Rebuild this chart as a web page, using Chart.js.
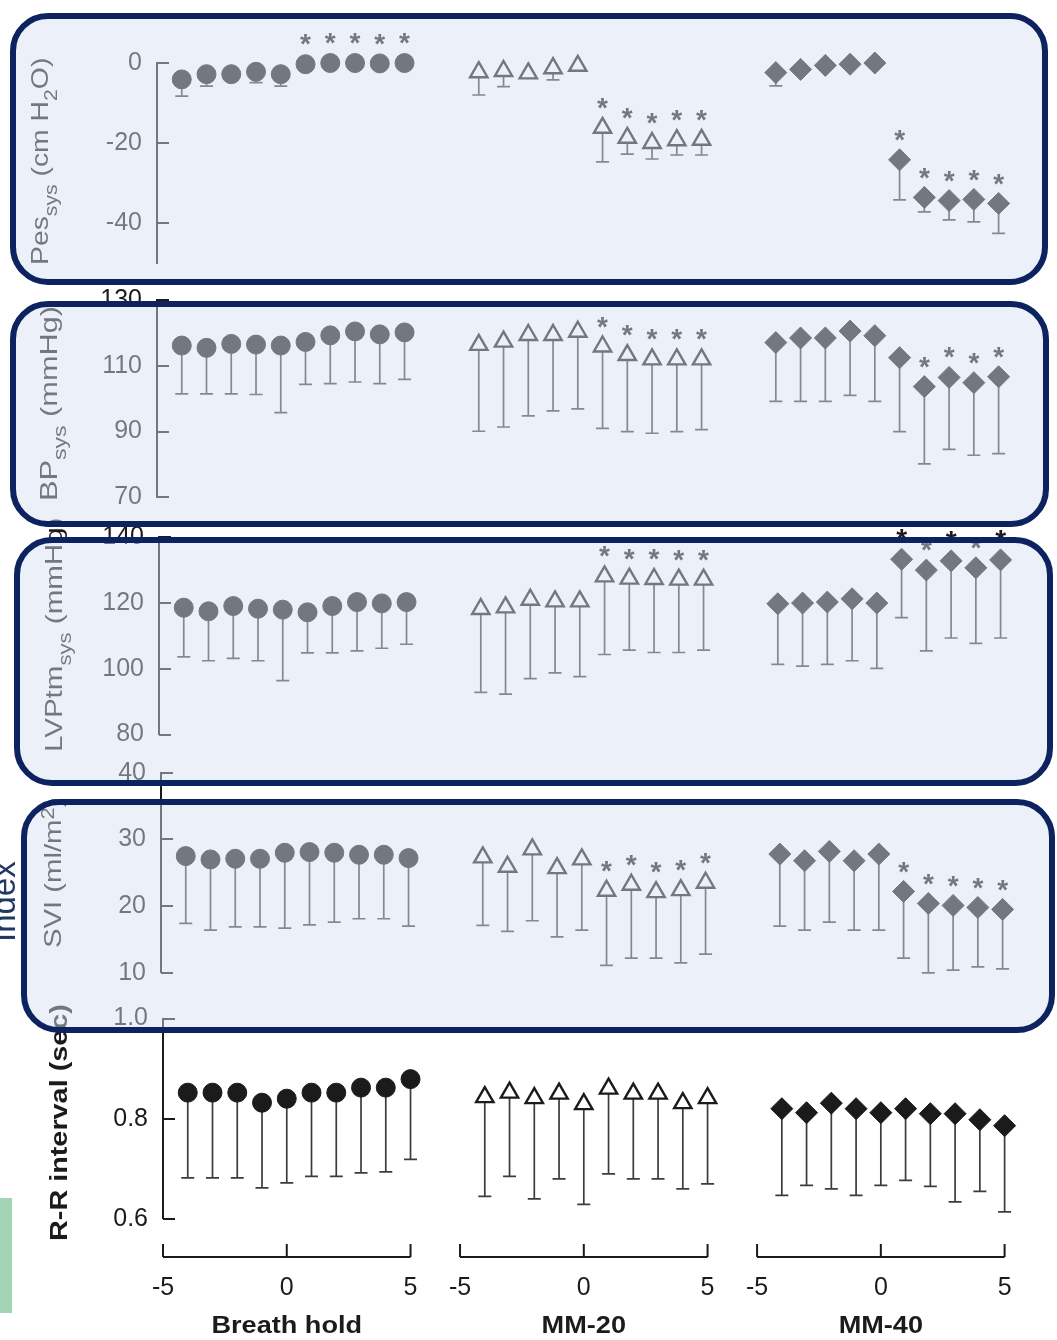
<!DOCTYPE html>
<html>
<head>
<meta charset="utf-8">
<script src="https://cdn.jsdelivr.net/npm/chart.js@4.4.1/dist/chart.umd.min.js"></script>
<style>
  html, body { margin: 0; padding: 0; background: #fff; }
  #stage { position: relative; width: 1057px; height: 1340px; overflow: hidden; background: #fff;
           font-family: 'Liberation Sans', Arial, sans-serif; }
  #stage canvas { position: absolute; top: 0; }
  .ytitle { position: absolute; transform-origin: 0 0; white-space: nowrap; font-size: 24px;
            line-height: 1; color: #1b1b1b; }
  .ytitle sub { font-size: 0.75em; vertical-align: -0.5em; line-height: 0; }
  .ytitle sup { font-size: 0.75em; vertical-align: 0.4em; line-height: 0; }
  .box { position: absolute; box-sizing: border-box; border: 6px solid #0c2360; border-radius: 38px;
         background: rgba(212, 223, 242, 0.47); z-index: 5; }
  #index { position: absolute; left: -13px; top: 942px; transform-origin: 0 0; transform: rotate(-90deg);
           font-size: 33px; line-height: 1; color: #1f3864; white-space: nowrap; }
  #greenTab { position: absolute; left: 0; top: 1198px; width: 12px; height: 115px; background: #a4d4b6; }
</style>
</head>
<body>
<div id="stage"></div>
<script>
/*
  Pes, BP, LVPtm, SVI and R-R interval around breath hold, MM-20 and MM-40
  five stacked panels, one Chart.js scatter per panel
*/

// ── shared x layout ───────────────────────────────────────────────
const seconds      = [-4, -3, -2, -1, 0, 1, 2, 3, 4, 5];
const groupNames   = ['Breath hold', 'MM-20', 'MM-40'];
const groupCentres = [0, 12, 24];
const xTickLabels  = [-5, 0, 5];

// ── Pes sys (cm H2O) ──────────────────────────────────────────────
const pesTicks     = [-40, -20, 0];
const pesBreath    = [-4.1, -2.8, -2.8, -2.2, -2.8, -0.3, 0, 0, -0.1, 0];
const pesBreathLow = [-8.3, -5.8, -4.0, -4.9, -5.8, -1.5, -1.3, -1.3, -1.4, -1.3];
const pesMM20      = [-2.3, -2.0, -2.6, -1.3, -0.7, -16.2, -18.7, -20.0, -19.3, -19.2];
const pesMM20Low   = [-8.0, -5.9, -3.5, -4.2, -1.5, -24.7, -22.8, -24.0, -23.0, -23.0];
const pesMM40      = [-2.4, -1.6, -0.6, -0.3, 0, -24.2, -33.6, -34.4, -34.1, -35.1];
const pesMM40Low   = [-5.7, -2.5, -1.5, -1.2, -0.9, -34.2, -37.2, -39.2, -39.7, -42.6];
const pesStars     = [[1, 2, 3, 4, 5], [1, 2, 3, 4, 5], [1, 2, 3, 4, 5]];

// ── BP sys (mmHg) ─────────────────────────────────────────────────
const bpTicks      = [70, 90, 110, 130];
const bpBreath     = [116.2, 115.5, 116.7, 116.5, 116.2, 117.3, 119.3, 120.5, 119.6, 120.2];
const bpBreathLow  = [101.5, 101.5, 101.5, 101.3, 95.8, 104.4, 104.6, 105.1, 104.6, 105.9];
const bpMM20       = [116.4, 117.4, 119.4, 119.4, 120.4, 115.9, 113.3, 112.0, 112.0, 112.0];
const bpMM20Low    = [90.1, 91.4, 94.8, 96.3, 96.9, 91.0, 90.0, 89.5, 90.0, 90.6];
const bpMM40       = [117.1, 118.5, 118.5, 120.6, 119.2, 112.5, 103.7, 106.5, 104.9, 106.7];
const bpMM40Low    = [99.2, 99.2, 99.2, 101.0, 99.2, 90.0, 80.2, 84.6, 82.8, 83.3];
const bpStars      = [[], [1, 2, 3, 4, 5], [2, 3, 4, 5]];

// ── LVPtm sys (mmHg) ──────────────────────────────────────────────
const lvpTicks     = [80, 100, 120, 140];
const lvpBreath    = [118.5, 117.4, 119.0, 118.2, 117.9, 117.1, 119.0, 120.2, 119.8, 120.2];
const lvpBreathLow = [103.6, 102.4, 103.1, 102.4, 96.4, 104.8, 104.8, 105.4, 106.2, 107.4];
const lvpMM20      = [118.1, 118.6, 120.9, 120.4, 120.4, 128.0, 127.3, 127.2, 127.0, 127.0];
const lvpMM20Low   = [92.8, 92.3, 97.0, 98.7, 97.6, 104.3, 105.6, 104.9, 104.9, 105.6];
const lvpMM40      = [119.7, 119.9, 120.2, 121.2, 119.9, 133.2, 129.9, 132.7, 130.6, 133.0];
const lvpMM40Low   = [101.3, 100.8, 101.3, 102.4, 100.1, 115.5, 105.4, 109.3, 107.7, 109.3];
const lvpStars     = [[], [1, 2, 3, 4, 5], [1, 2, 3, 4, 5]];

// ── SVI (ml/m2) ───────────────────────────────────────────────────
const sviTicks     = [10, 20, 30, 40];
const sviBreath    = [27.5, 27.0, 27.1, 27.1, 28.0, 28.1, 28.0, 27.7, 27.7, 27.2];
const sviBreathLow = [17.4, 16.4, 16.9, 16.9, 16.7, 17.2, 17.6, 18.1, 18.1, 17.0];
const sviMM20      = [27.3, 25.9, 28.5, 25.7, 27.0, 22.3, 23.2, 22.1, 22.4, 23.5];
const sviMM20Low   = [17.1, 16.2, 17.8, 15.4, 16.4, 11.1, 12.2, 12.2, 11.5, 12.8];
const sviMM40      = [27.8, 26.8, 28.2, 26.8, 27.8, 22.2, 20.4, 20.1, 19.8, 19.5];
const sviMM40Low   = [17.0, 16.4, 17.6, 16.4, 16.4, 12.2, 10.0, 10.4, 10.9, 10.6];
const sviStars     = [[], [1, 2, 3, 4, 5], [1, 2, 3, 4, 5]];

// ── R-R interval (sec) ────────────────────────────────────────────
const rrTicks      = [0.6, 0.8, 1.0];
const rrBreath     = [0.852, 0.852, 0.852, 0.832, 0.840, 0.852, 0.852, 0.862, 0.862, 0.879];
const rrBreathLow  = [0.682, 0.682, 0.682, 0.662, 0.672, 0.685, 0.685, 0.692, 0.694, 0.719];
const rrMM20       = [0.843, 0.852, 0.841, 0.850, 0.829, 0.860, 0.850, 0.850, 0.831, 0.841];
const rrMM20Low    = [0.645, 0.685, 0.640, 0.680, 0.629, 0.690, 0.680, 0.680, 0.660, 0.670];
const rrMM40       = [0.820, 0.812, 0.831, 0.820, 0.812, 0.820, 0.810, 0.810, 0.798, 0.786];
const rrMM40Low    = [0.647, 0.667, 0.660, 0.647, 0.667, 0.677, 0.665, 0.634, 0.655, 0.614];
const rrStars      = [[], [], []];

const yTitles = [
  'Pes<sub>sys</sub> (cm H<sub>2</sub>O)',
  'BP<sub>sys</sub> (mmHg)',
  'LVPtm<sub>sys</sub> (mmHg)',
  'SVI (ml/m<sup>2</sup>)',
  'R-R interval (sec)'
];

const INK  = '#1b1b1b';
const FONT = "'Liberation Sans', Arial, sans-serif";
const W = 1057, H = 1340;

// page geometry of each panel (plot top / bottom, sideways scan offset, title spot)
const panels = [
  { means: [pesBreath, pesMM20, pesMM40], lows: [pesBreathLow, pesMM20Low, pesMM40Low], stars: pesStars,
    ticks: pesTicks, min: -50, max: 0, top: 63, bottom: 263, shift: -6,
    title: { x: 48, y: 265, scale: 1.18 } },
  { means: [bpBreath, bpMM20, bpMM40], lows: [bpBreathLow, bpMM20Low, bpMM40Low], stars: bpStars,
    ticks: bpTicks, min: 70, max: 130, top: 300.2, bottom: 497.3, shift: -6,
    title: { x: 57.5, y: 501, scale: 1.28 } },
  { means: [lvpBreath, lvpMM20, lvpMM40], lows: [lvpBreathLow, lvpMM20Low, lvpMM40Low], stars: lvpStars,
    ticks: lvpTicks, min: 80, max: 140, top: 536.8, bottom: 734.6, shift: -4,
    title: { x: 62.5, y: 751.5, scale: 1.23 } },
  { means: [sviBreath, sviMM20, sviMM40], lows: [sviBreathLow, sviMM20Low, sviMM40Low], stars: sviStars,
    ticks: sviTicks, min: 10, max: 40, top: 772.7, bottom: 972.8, shift: -2.5,
    title: { x: 61, y: 947.5, scale: 1.22 } },
  { means: [rrBreath, rrMM20, rrMM40], lows: [rrBreathLow, rrMM20Low, rrMM40Low], stars: rrStars,
    ticks: rrTicks, min: 0.6, max: 1.0, top: 1018.5, bottom: 1218.9, shift: 0, decimals: 1, bold: true,
    title: { x: 67.5, y: 1241, scale: 1.2 } }
];

const MARKERS = [
  { style: 'circle',   radius: 9.5, fill: INK,       border: 1 },
  { style: 'triangle', radius: 10,  fill: '#ffffff', border: 2.4 },
  { style: 'rectRot',  radius: 11,  fill: INK,       border: 1 }
];

const BOXES = [
  { left: 10, top: 13,  right: 1048, bottom: 285 },
  { left: 10, top: 301, right: 1049, bottom: 527 },
  { left: 14, top: 537, right: 1053, bottom: 786 },
  { left: 21, top: 799, right: 1055, bottom: 1033 }
];

// ── plugins ───────────────────────────────────────────────────────
const whiskers = {
  id: 'whiskers',
  beforeDatasetsDraw(chart) {
    const { ctx, scales: { x, y } } = chart;
    ctx.save();
    ctx.strokeStyle = '#3c3c3c';
    ctx.lineWidth = 1.7;
    chart.data.datasets.forEach(ds => ds.data.forEach(p => {
      const px = x.getPixelForValue(p.x);
      const top = y.getPixelForValue(p.y);
      const bot = y.getPixelForValue(p.low);
      ctx.beginPath();
      ctx.moveTo(px, top); ctx.lineTo(px, bot);
      ctx.moveTo(px - 6.5, bot); ctx.lineTo(px + 6.5, bot);
      ctx.stroke();
    }));
    ctx.restore();
  }
};

const stars = {
  id: 'stars',
  afterDatasetsDraw(chart) {
    const { ctx, scales: { x, y } } = chart;
    const size = 28;
    ctx.save();
    ctx.fillStyle = INK;
    ctx.font = `bold ${size}px ${FONT}`;
    ctx.textAlign = 'center';
    ctx.textBaseline = 'alphabetic';
    chart.data.datasets.forEach(ds => ds.data.forEach(p => {
      if (!p.star) return;
      const px = x.getPixelForValue(p.x);
      const py = y.getPixelForValue(p.y) - 27;
      ctx.fillText('*', px, py + 0.575 * size);
    }));
    ctx.restore();
  }
};

// tick marks point inward, into the plot
const innerTicks = {
  id: 'innerTicks',
  afterDraw(chart) {
    const { ctx, chartArea, scales: { y } } = chart;
    ctx.save();
    ctx.strokeStyle = INK;
    ctx.lineWidth = 2;
    y.ticks.forEach(t => {
      const py = Math.round(y.getPixelForValue(t.value));
      ctx.beginPath();
      ctx.moveTo(chartArea.left, py);
      ctx.lineTo(chartArea.left + 12, py);
      ctx.stroke();
    });
    ctx.restore();
  }
};

// three bracket-shaped x axes, -5..5 around each manoeuvre
const groupAxis = {
  id: 'groupAxis',
  afterDraw(chart, args, opts) {
    if (!opts.show) return;
    const { ctx, chartArea, scales: { x } } = chart;
    const base = Math.round(chartArea.bottom + 38);
    ctx.save();
    ctx.strokeStyle = INK;
    ctx.fillStyle = INK;
    ctx.lineWidth = 2;
    groupCentres.forEach((c, g) => {
      const xs = xTickLabels.map(t => x.getPixelForValue(c + t));
      ctx.beginPath();
      ctx.moveTo(xs[0], base); ctx.lineTo(xs[xs.length - 1], base);
      xs.forEach(px => { ctx.moveTo(px, base); ctx.lineTo(px, base - 13); });
      ctx.stroke();

      ctx.font = `25px ${FONT}`;
      ctx.textAlign = 'center';
      ctx.textBaseline = 'middle';
      xTickLabels.forEach((t, i) => ctx.fillText(String(t), xs[i], base + 31));

      ctx.save();
      ctx.translate(x.getPixelForValue(c), base + 69);
      ctx.scale(1.13, 1);
      ctx.font = `bold 24px ${FONT}`;
      ctx.fillText(groupNames[g], 0, 0);
      ctx.restore();
    });
    ctx.restore();
  }
};

// ── build ─────────────────────────────────────────────────────────
const stage = document.getElementById('stage');

function buildDatasets(p) {
  return groupNames.map((name, g) => ({
    label: name,
    data: seconds.map((s, i) => ({
      x: groupCentres[g] + s,
      y: p.means[g][i],
      low: p.lows[g][i],
      star: p.stars[g].includes(s)
    })),
    pointStyle: MARKERS[g].style,
    pointRadius: MARKERS[g].radius,
    pointHoverRadius: MARKERS[g].radius,
    backgroundColor: MARKERS[g].fill,
    borderColor: INK,
    borderWidth: MARKERS[g].border,
    showLine: false,
    clip: false
  }));
}

panels.forEach((p, idx) => {
  const canvas = document.createElement('canvas');
  canvas.width = W;
  canvas.height = H;
  canvas.style.left = p.shift + 'px';
  stage.appendChild(canvas);

  new Chart(canvas.getContext('2d'), {
    type: 'scatter',
    data: { datasets: buildDatasets(p) },
    options: {
      responsive: false,
      animation: false,
      devicePixelRatio: 1,
      events: [],
      layout: { padding: { left: 0, right: W - 1004.6, top: p.top, bottom: H - p.bottom } },
      plugins: {
        legend: { display: false },
        tooltip: { enabled: false },
        groupAxis: { show: idx === panels.length - 1 }
      },
      scales: {
        x: { type: 'linear', min: -5, max: 29, display: false },
        y: {
          type: 'linear',
          min: p.min,
          max: p.max,
          afterBuildTicks: s => { s.ticks = p.ticks.map(v => ({ value: v })); },
          afterFit: s => { s.width = 163; },
          grid: { display: false },
          border: { display: true, color: INK, width: 2 },
          ticks: {
            color: INK,
            padding: 7,
            font: { family: FONT, size: 25 },
            callback: v => p.decimals ? Number(v).toFixed(p.decimals) : String(v)
          }
        }
      }
    },
    plugins: [whiskers, stars, innerTicks, groupAxis]
  });

  const t = document.createElement('div');
  t.className = 'ytitle';
  t.innerHTML = yTitles[idx];
  t.style.left = (p.title.x - 0.8465 * 24) + 'px';
  t.style.top = p.title.y + 'px';
  t.style.transform = `rotate(-90deg) scaleX(${p.title.scale})`;
  if (p.bold) t.style.fontWeight = 'bold';
  stage.appendChild(t);
});

// slide decorations around the figure
const idx = document.createElement('div');
idx.id = 'index';
idx.textContent = 'Index';
stage.appendChild(idx);

const tab = document.createElement('div');
tab.id = 'greenTab';
stage.appendChild(tab);

BOXES.forEach(b => {
  const d = document.createElement('div');
  d.className = 'box';
  d.style.left = b.left + 'px';
  d.style.top = b.top + 'px';
  d.style.width = (b.right - b.left) + 'px';
  d.style.height = (b.bottom - b.top) + 'px';
  stage.appendChild(d);
});
</script>
</body>
</html>
